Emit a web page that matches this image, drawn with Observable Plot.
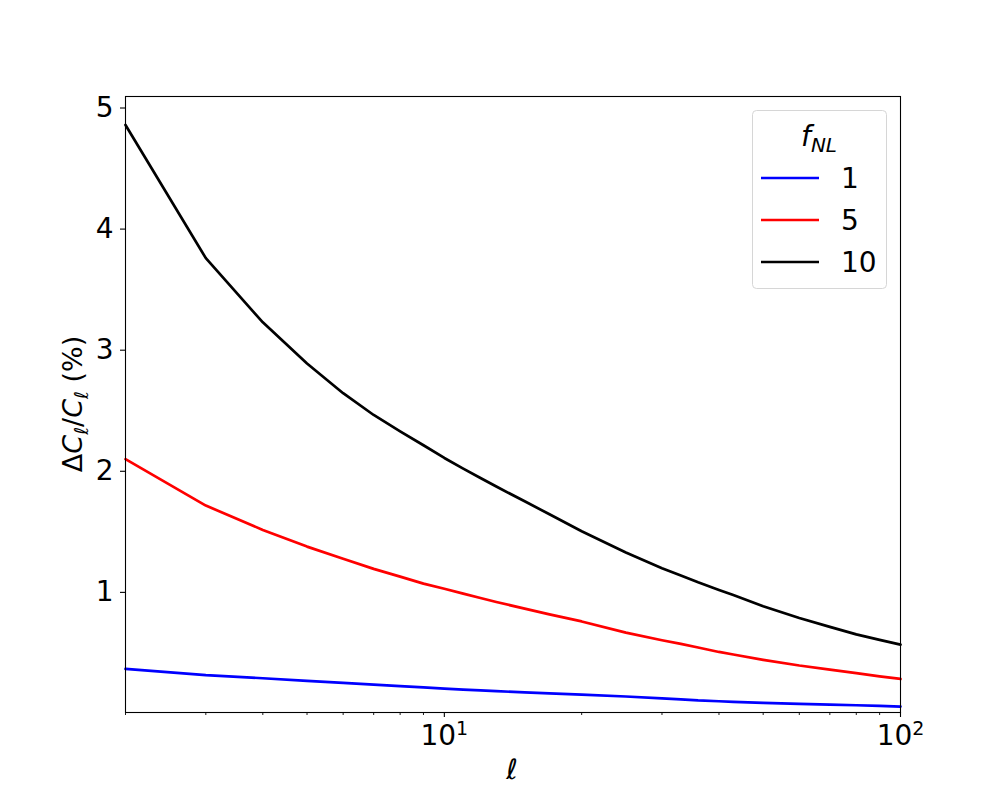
<!DOCTYPE html>
<html>
<head>
<meta charset="utf-8">
<script src="https://cdn.jsdelivr.net/npm/d3@7"></script>
<script src="https://cdn.jsdelivr.net/npm/@observablehq/plot@0.6"></script>
<style>
  html, body { margin: 0; padding: 0; background: #fff; }
  #chart { width: 1000px; height: 800px; }
</style>
</head>
<body>
<div id="chart"></div>
<script>
// multipole values
const ells = [2, 3, 4, 5, 6, 7, 8, 9, 10, 11, 12, 13, 15, 17, 20, 25, 30, 33, 36, 40, 43, 50, 60, 70, 80, 90, 100];
// ΔC_l / C_l (%) for each f_NL
const fnl1  = [0.368, 0.316, 0.291, 0.269, 0.253, 0.239, 0.226, 0.215, 0.205, 0.197, 0.190, 0.184, 0.174, 0.166, 0.156, 0.140, 0.125, 0.117, 0.108, 0.101, 0.096, 0.088, 0.079, 0.073, 0.068, 0.063, 0.057];
const fnl5  = [2.10, 1.717, 1.516, 1.378, 1.277, 1.194, 1.13, 1.072, 1.03, 0.99, 0.953, 0.92, 0.866, 0.818, 0.76, 0.668, 0.605, 0.575, 0.545, 0.508, 0.487, 0.443, 0.396, 0.362, 0.333, 0.307, 0.285];
const fnl10 = [4.86, 3.76, 3.23, 2.89, 2.645, 2.465, 2.33, 2.215, 2.11, 2.022, 1.945, 1.874, 1.752, 1.645, 1.505, 1.33, 1.20, 1.14, 1.083, 1.02, 0.978, 0.886, 0.788, 0.715, 0.653, 0.608, 0.568];
const seriesNames = ["1", "5", "10"];
const seriesColors = ["#0000ff", "#ff0000", "#000000"];
const yTicks = [1, 2, 3, 4, 5];
const xMajorTicks = [10, 100];
const xMinorTicks = [2, 3, 4, 5, 6, 7, 8, 9, 20, 30, 40, 50, 60, 70, 80, 90];

const seriesValues = [fnl1, fnl5, fnl10];
const data = [];
seriesValues.forEach((vals, si) => {
  vals.forEach((v, i) => data.push({ell: ells[i], value: v, fnl: seriesNames[si]}));
});

const FONT = "'DejaVu Sans', sans-serif";
const LW = 2.7;

const plot = Plot.plot({
  width: 1000,
  height: 800,
  marginLeft: 125,
  marginRight: 100,
  marginTop: 96,
  marginBottom: 88,
  style: {fontFamily: FONT, fontSize: "28px", color: "#000", background: "#fff"},
  x: {type: "log", domain: [2, 100], range: [125, 900]},
  y: {domain: [0.008, 5.095], range: [712, 96]},
  color: {domain: seriesNames, range: seriesColors},
  marks: [
    Plot.line(data, {x: "ell", y: "value", z: "fnl", stroke: "fnl", strokeWidth: LW}),
    Plot.frame({stroke: "#000", strokeWidth: 1.1}),
    Plot.axisY({ticks: yTicks, tickSize: 5, tickPadding: 7, tickFormat: d => String(d), label: null, fontSize: 28, stroke: "#000", strokeWidth: 1.1}),
    Plot.axisX({ticks: xMajorTicks, tickSize: 5, tickPadding: 8, tickFormat: d => "10|" + Math.round(Math.log10(d)), label: null, fontSize: 28, stroke: "#000", strokeWidth: 1.1}),
    Plot.axisX({ticks: xMinorTicks, tickSize: 3, tickFormat: () => "", label: null, stroke: "#000", strokeWidth: 0.9})
  ]
});

document.getElementById("chart").appendChild(plot);
const svg = d3.select(plot);

// superscript exponents on the major x tick labels
svg.selectAll("text").each(function() {
  const t = d3.select(this);
  const s = this.textContent;
  if (/^10\|\d$/.test(s)) {
    const exp = s.split("|")[1];
    t.text("10");
    t.append("tspan").attr("dy", "-10").attr("font-size", 19).text(exp);
  }
});

// y-axis label: ΔC_ℓ/C_ℓ (%)
const yl = svg.append("text")
  .attr("transform", "translate(82,404) rotate(-90)")
  .attr("text-anchor", "middle")
  .attr("font-family", FONT)
  .attr("font-size", 27)
  .attr("fill", "#000");
yl.append("tspan").text("Δ");
yl.append("tspan").attr("font-style", "italic").text("C");
yl.append("tspan").attr("font-style", "italic").attr("font-size", 19).attr("dy", 6).text("ℓ");
yl.append("tspan").attr("dy", -6).text("/");
yl.append("tspan").attr("font-style", "italic").text("C");
yl.append("tspan").attr("font-style", "italic").attr("font-size", 19).attr("dy", 6).text("ℓ");
yl.append("tspan").attr("dy", -6).text(" (%)");

// x-axis label: ℓ
svg.append("text")
  .attr("x", 512).attr("y", 779)
  .attr("text-anchor", "middle")
  .attr("font-family", FONT)
  .attr("font-size", 28)
  .attr("font-style", "italic")
  .attr("fill", "#000")
  .text("ℓ");

// legend
const lg = svg.append("g").attr("font-family", FONT);
lg.append("rect")
  .attr("x", 752.5).attr("y", 110.5).attr("width", 134).attr("height", 178)
  .attr("rx", 4).attr("ry", 4)
  .attr("fill", "#fff").attr("fill-opacity", 0.8)
  .attr("stroke", "#d6d6d6").attr("stroke-width", 1);
const lt = lg.append("text")
  .attr("x", 819).attr("y", 146)
  .attr("text-anchor", "middle")
  .attr("font-size", 28)
  .attr("fill", "#000");
lt.append("tspan").attr("font-style", "italic").text("f");
lt.append("tspan").attr("font-style", "italic").attr("font-size", 20).attr("dy", 6).text("NL");
const entryY = [178, 220, 262];
seriesNames.forEach((name, i) => {
  lg.append("line")
    .attr("x1", 761).attr("x2", 819)
    .attr("y1", entryY[i]).attr("y2", entryY[i])
    .attr("stroke", seriesColors[i]).attr("stroke-width", LW);
  lg.append("text")
    .attr("x", 841).attr("y", entryY[i] + 10)
    .attr("text-anchor", "start")
    .attr("font-size", 28)
    .attr("fill", "#000")
    .text(name);
});
</script>
</body>
</html>
